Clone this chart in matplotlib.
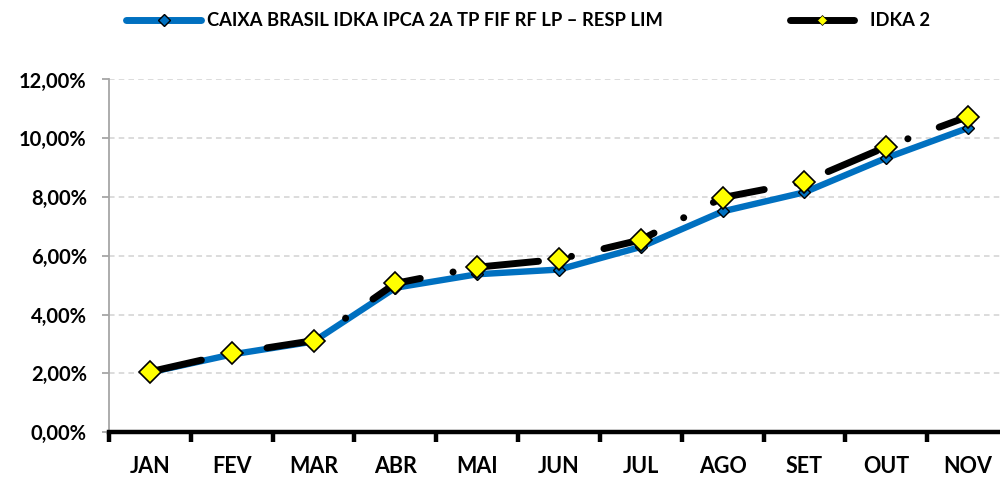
import matplotlib.pyplot as plt
import numpy as np
from matplotlib.lines import Line2D
from matplotlib.ticker import FuncFormatter, MultipleLocator

plt.rcParams['font.family'] = ['Lato', 'DejaVu Sans']
plt.rcParams['font.weight'] = 'bold'
plt.rcParams['lines.scale_dashes'] = False

# dados (rentabilidade acumulada, %)
meses = ['JAN', 'FEV', 'MAR', 'ABR', 'MAI', 'JUN', 'JUL', 'AGO', 'SET', 'OUT', 'NOV']
fundo = [2.03, 2.64, 3.08, 4.91, 5.37, 5.53, 6.30, 7.51, 8.16, 9.33, 10.35]
idka2 = [2.05, 2.68, 3.11, 5.06, 5.61, 5.88, 6.54, 7.98, 8.52, 9.71, 10.74]

nome_fundo = 'CAIXA BRASIL IDKA IPCA 2A TP FIF RF LP \u2013 RESP LIM'
nome_idka = 'IDKA 2'

azul = '#0070C0'
amarelo = '#FFFF00'

fig = plt.figure(figsize=(10, 4.78), dpi=100)
ax = fig.add_axes([0.109, 0.0962, 0.900, 0.7375])

x = np.arange(len(meses))

# linha do fundo
ax.plot(x, fundo, color=azul, lw=4.6, solid_capstyle='round', zorder=2)
# linha do benchmark (traço-ponto)
ax.plot(x, idka2, color='black', lw=5.0, dashes=[38, 24, 0.1, 24],
        dash_capstyle='round', zorder=3)
# marcadores
ax.plot(x, fundo, ls='none', marker='D', ms=6, mfc=azul, mec='black',
        mew=1.0, zorder=4)
ax.plot(x, idka2, ls='none', marker='D', ms=11.5, mfc=amarelo, mec='black',
        mew=1.2, zorder=5)

# eixos
ax.set_xlim(-0.5, len(meses) - 0.5)
ax.set_ylim(0, 12)
ax.yaxis.set_major_locator(MultipleLocator(2))
ax.yaxis.set_major_formatter(FuncFormatter(lambda v, p: f'{v:.2f}%'.replace('.', ',')))
ax.set_xticks(x)
ax.set_xticklabels(meses, va='baseline')
ax.set_xticks(np.arange(-0.5, len(meses)), minor=True)

ax.grid(axis='y', color='#D9D9D9', ls=(0, (4, 3)), lw=1.3, zorder=0)

for s in ['top', 'right']:
    ax.spines[s].set_visible(False)
ax.spines['left'].set_color('#A6A6A6')
ax.spines['left'].set_linewidth(1.3)
ax.spines['bottom'].set_color('black')
ax.spines['bottom'].set_linewidth(3.2)
ax.spines['bottom'].set_zorder(6)

ax.tick_params(axis='y', length=5, width=1.3, color='#A6A6A6', pad=11,
               labelsize=14.5)
ax.tick_params(axis='x', which='major', length=0, pad=29.5, labelsize=15.5)
ax.tick_params(axis='x', which='minor', length=7, width=3.2, color='black',
               direction='out')

# legenda
h1 = Line2D([], [], color=azul, lw=5, solid_capstyle='round', marker='D',
            ms=6, mfc=azul, mec='black', mew=1.0)
h2 = Line2D([], [], color='black', lw=5, solid_capstyle='round', marker='D',
            ms=5, mfc=amarelo, mec='black', mew=0.5)
fig.legend([h1], [nome_fundo], loc='center left', bbox_to_anchor=(0.126, 1 - 21 / 478),
           frameon=False, borderpad=0, borderaxespad=0, handlelength=4.1,
           handletextpad=0.3, fontsize=13.2)
fig.legend([h2], [nome_idka], loc='center left', bbox_to_anchor=(0.79, 1 - 21 / 478),
           frameon=False, borderpad=0, borderaxespad=0, handlelength=3.5,
           handletextpad=0.85, fontsize=13.2)

fig.savefig('out.png', dpi=100)
